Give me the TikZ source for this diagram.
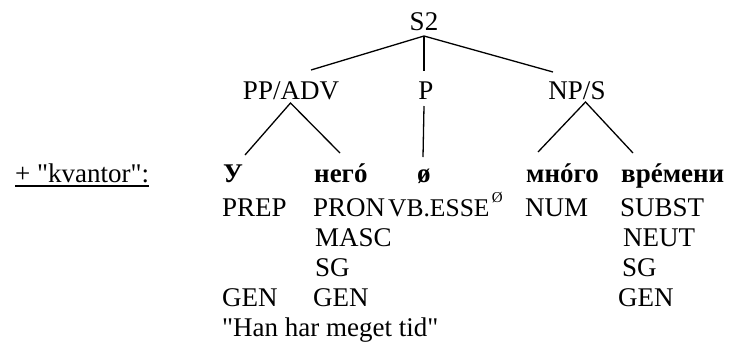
\documentclass[tikz,border=0pt]{standalone}
\usepackage{fontspec}
\setmainfont{Liberation Serif}[Ligatures=TeXOff]
\begin{document}
\begin{tikzpicture}[x=1pt,y=-1pt,
    lbl/.style={anchor=base west,inner sep=0pt,font=\fontsize{27}{30}\selectfont},
    cat/.style={anchor=base,inner sep=0pt,font=\fontsize{27}{30}\selectfont},
    word/.style={lbl,font=\fontsize{27}{30}\selectfont\bfseries},
    edge/.style={line width=1.3pt}]
\useasboundingbox (0,0) rectangle (739,349);

% phrase structure labels
\node[cat] (s2)  at (424,30) {S2};
\node[cat] (pp)  at (291,99) {PP/ADV};
\node[cat] (p)   at (426,99) {P};
\node[cat] (nps) at (577,99) {NP/S};

% attachment points of the branches
\coordinate (s2b)  at (424,36);
\coordinate (ppt)  at (311,70);
\coordinate (pt)   at (424,71);
\coordinate (npt)  at (553,72);
\coordinate (ppb)  at (290.5,103);
\coordinate (pb)   at (424,106);
\coordinate (npb)  at (585.5,102);
\coordinate (w1t)  at (245,155);
\coordinate (w2t)  at (340,153);
\coordinate (w3t)  at (423,157);
\coordinate (w4t)  at (538,152);
\coordinate (w5t)  at (633,153);

\draw[edge] (ppt) -- (s2b) -- (npt);
\draw[edge] (s2b) -- (pt);
\draw[edge] (w1t) -- (ppb) -- (w2t);
\draw[edge] (pb) -- (w3t);
\draw[edge] (w4t) -- (npb) -- (w5t);

% heading
\node[lbl] (kv) at (15,182) {+ "kvantor":};
\draw[line width=1.3pt] ([yshift=-4pt]kv.base west) -- ([yshift=-4pt]kv.base east);

% words
\node[word] (w1) at (223,182) {У};
\node[word] (w2) at (314,182) {негó};
\node[word] (w3) at (417,182) {ø};
\node[word] (w4) at (526,182) {мнóго};
\node[word] (w5) at (621,182) {врéмени};

% grammatical features
\node[lbl] (prep)  at (222,216) {PREP};
\node[lbl] (pron)  at (313,216) {PRON};
\node[lbl,font=\fontsize{25.5}{30}\selectfont] (vb) at (388,216) {VB.ESSE};
\node[anchor=base west,inner sep=0pt,font=\fontsize{15}{16}\selectfont] (vbsup) at ([xshift=2pt,yshift=14pt]vb.base east) {Ø};
\node[lbl] (num)   at (525,216) {NUM};
\node[lbl] (subst) at (620,216) {SUBST};

\node[lbl] (masc)  at (315,246.5) {MASC};
\node[lbl] (neut)  at (623,246.5) {NEUT};

\node[lbl] (sg1)   at (315,276.5) {SG};
\node[lbl] (sg2)   at (622,276.5) {SG};

\node[lbl] (gen1)  at (222,306.5) {GEN};
\node[lbl] (gen2)  at (313,306.5) {GEN};
\node[lbl] (gen3)  at (618,306.5) {GEN};

\node[lbl] (gloss) at (222,336.5) {"Han har meget tid"};
\end{tikzpicture}
\end{document}
